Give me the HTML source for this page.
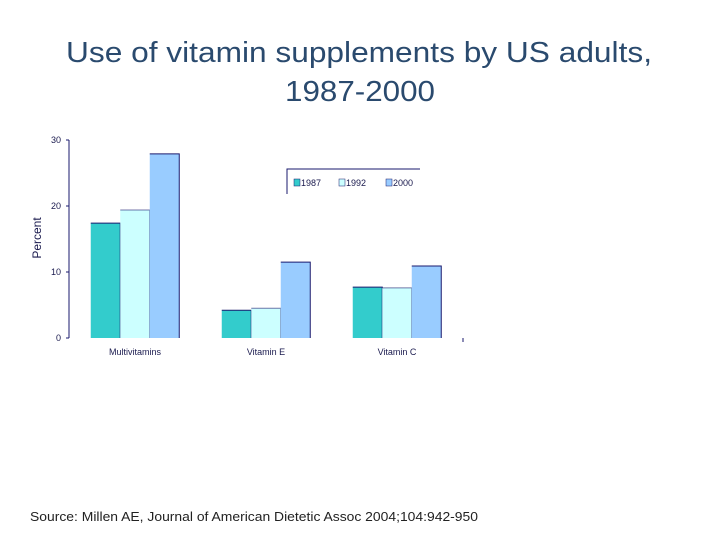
<!DOCTYPE html>
<html><head><meta charset="utf-8"><style>
html,body{margin:0;padding:0;background:#fff;}
svg{display:block;font-family:"Liberation Sans",sans-serif;}
</style></head><body>
<svg id="chart" width="720" height="540" viewBox="0 0 720 540">
<text x="66" y="62" font-size="29" fill="#2a4a6e" textLength="586" lengthAdjust="spacingAndGlyphs">Use of vitamin supplements by US adults,</text>
<text x="285" y="101" font-size="29" fill="#2a4a6e" textLength="150" lengthAdjust="spacingAndGlyphs">1987-2000</text>
<text transform="translate(41,238) rotate(-90)" text-anchor="middle" font-size="12" fill="#1a1a4e">Percent</text>
<line x1="69" y1="140" x2="69" y2="338" stroke="#1a1a6e" stroke-width="1"/>
<line x1="463" y1="338" x2="463" y2="342" stroke="#1a1a6e" stroke-width="1"/>
<g id="yticks"></g>
<g id="bars"></g>
<g id="xlabels"></g>
<g>
<polyline points="287,194 287,169 420,169" fill="none" stroke="#1a1a6e" stroke-width="1"/>
<rect x="294" y="179" width="6" height="7" fill="#33cccc" stroke="#1a1a6e" stroke-width="0.5"/>
<text x="301" y="186" font-size="9" fill="#1a1a4e">1987</text>
<rect x="339" y="179" width="6" height="7" fill="#ccffff" stroke="#1a1a6e" stroke-width="0.5"/>
<text x="346" y="186" font-size="9" fill="#1a1a4e">1992</text>
<rect x="386" y="179" width="6" height="7" fill="#99ccff" stroke="#1a1a6e" stroke-width="0.5"/>
<text x="393" y="186" font-size="9" fill="#1a1a4e">2000</text>
</g>
<text x="30" y="521" font-size="13" fill="#222" textLength="448" lengthAdjust="spacingAndGlyphs">Source: Millen AE, Journal of American Dietetic Assoc 2004;104:942-950</text>
</svg>
<script>
const categories = ["Multivitamins", "Vitamin E", "Vitamin C"];
const seriesNames = ["1987", "1992", "2000"];
const values1987 = [17.4, 4.2, 7.7];
const values1992 = [19.4, 4.5, 7.6];
const values2000 = [27.9, 11.5, 10.9];
const yTicks = [0, 10, 20, 30];

const NS = "http://www.w3.org/2000/svg";
const colors = ["#33cccc", "#ccffff", "#99ccff"];
const y0 = 338, pxPerUnit = 6.6;
function yScale(v){ return y0 - v * pxPerUnit; }
function xGroupCenter(i){ return 135 + i * 131; }
const barW = 29.5;

const yt = document.getElementById("yticks");
yTicks.forEach(t => {
  const tx = document.createElementNS(NS, "text");
  
  
  tx.setAttribute("x", 61); tx.setAttribute("y", yScale(t) + 3);
  tx.setAttribute("text-anchor", "end"); tx.setAttribute("font-size", "9"); tx.setAttribute("fill", "#1a1a4e");
  tx.textContent = t; yt.appendChild(tx);
  const tk = document.createElementNS(NS, "line");
  
  
  tk.setAttribute("x1", 66); tk.setAttribute("x2", 69);
  tk.setAttribute("y1", yScale(t)); tk.setAttribute("y2", yScale(t));
  tk.setAttribute("stroke", "#1a1a6e"); yt.appendChild(tk);
});

const bg = document.getElementById("bars");
const series = [values1987, values1992, values2000];
series.forEach((vals, s) => {
  vals.forEach((v, i) => {
    const x = xGroupCenter(i) - 1.5 * barW + s * barW;
    const r = document.createElementNS(NS, "rect");
    
    
    r.setAttribute("x", x); r.setAttribute("y", yScale(v));
    r.setAttribute("width", barW); r.setAttribute("height", y0 - yScale(v));
    r.setAttribute("fill", colors[s]); bg.appendChild(r);
    const o = document.createElementNS(NS, "polyline");
    
    
    o.setAttribute("points", x + "," + yScale(v) + " " + (x + barW) + "," + yScale(v) + " " + (x + barW) + "," + y0);
    o.setAttribute("fill", "none"); o.setAttribute("stroke", "#1a1a6e"); o.setAttribute("stroke-width", "1");
    if (s === 1) o.setAttribute("stroke-opacity", "0.6");
    bg.appendChild(o);
  });
});

const xl = document.getElementById("xlabels");
categories.forEach((c, i) => {
  const tx = document.createElementNS(NS, "text");
  
  
  tx.setAttribute("x", xGroupCenter(i)); tx.setAttribute("y", 355);
  tx.setAttribute("text-anchor", "middle"); tx.setAttribute("font-size", "9"); tx.setAttribute("fill", "#1a1a4e");
  tx.textContent = c; xl.appendChild(tx);
});
</script>
</body></html>
